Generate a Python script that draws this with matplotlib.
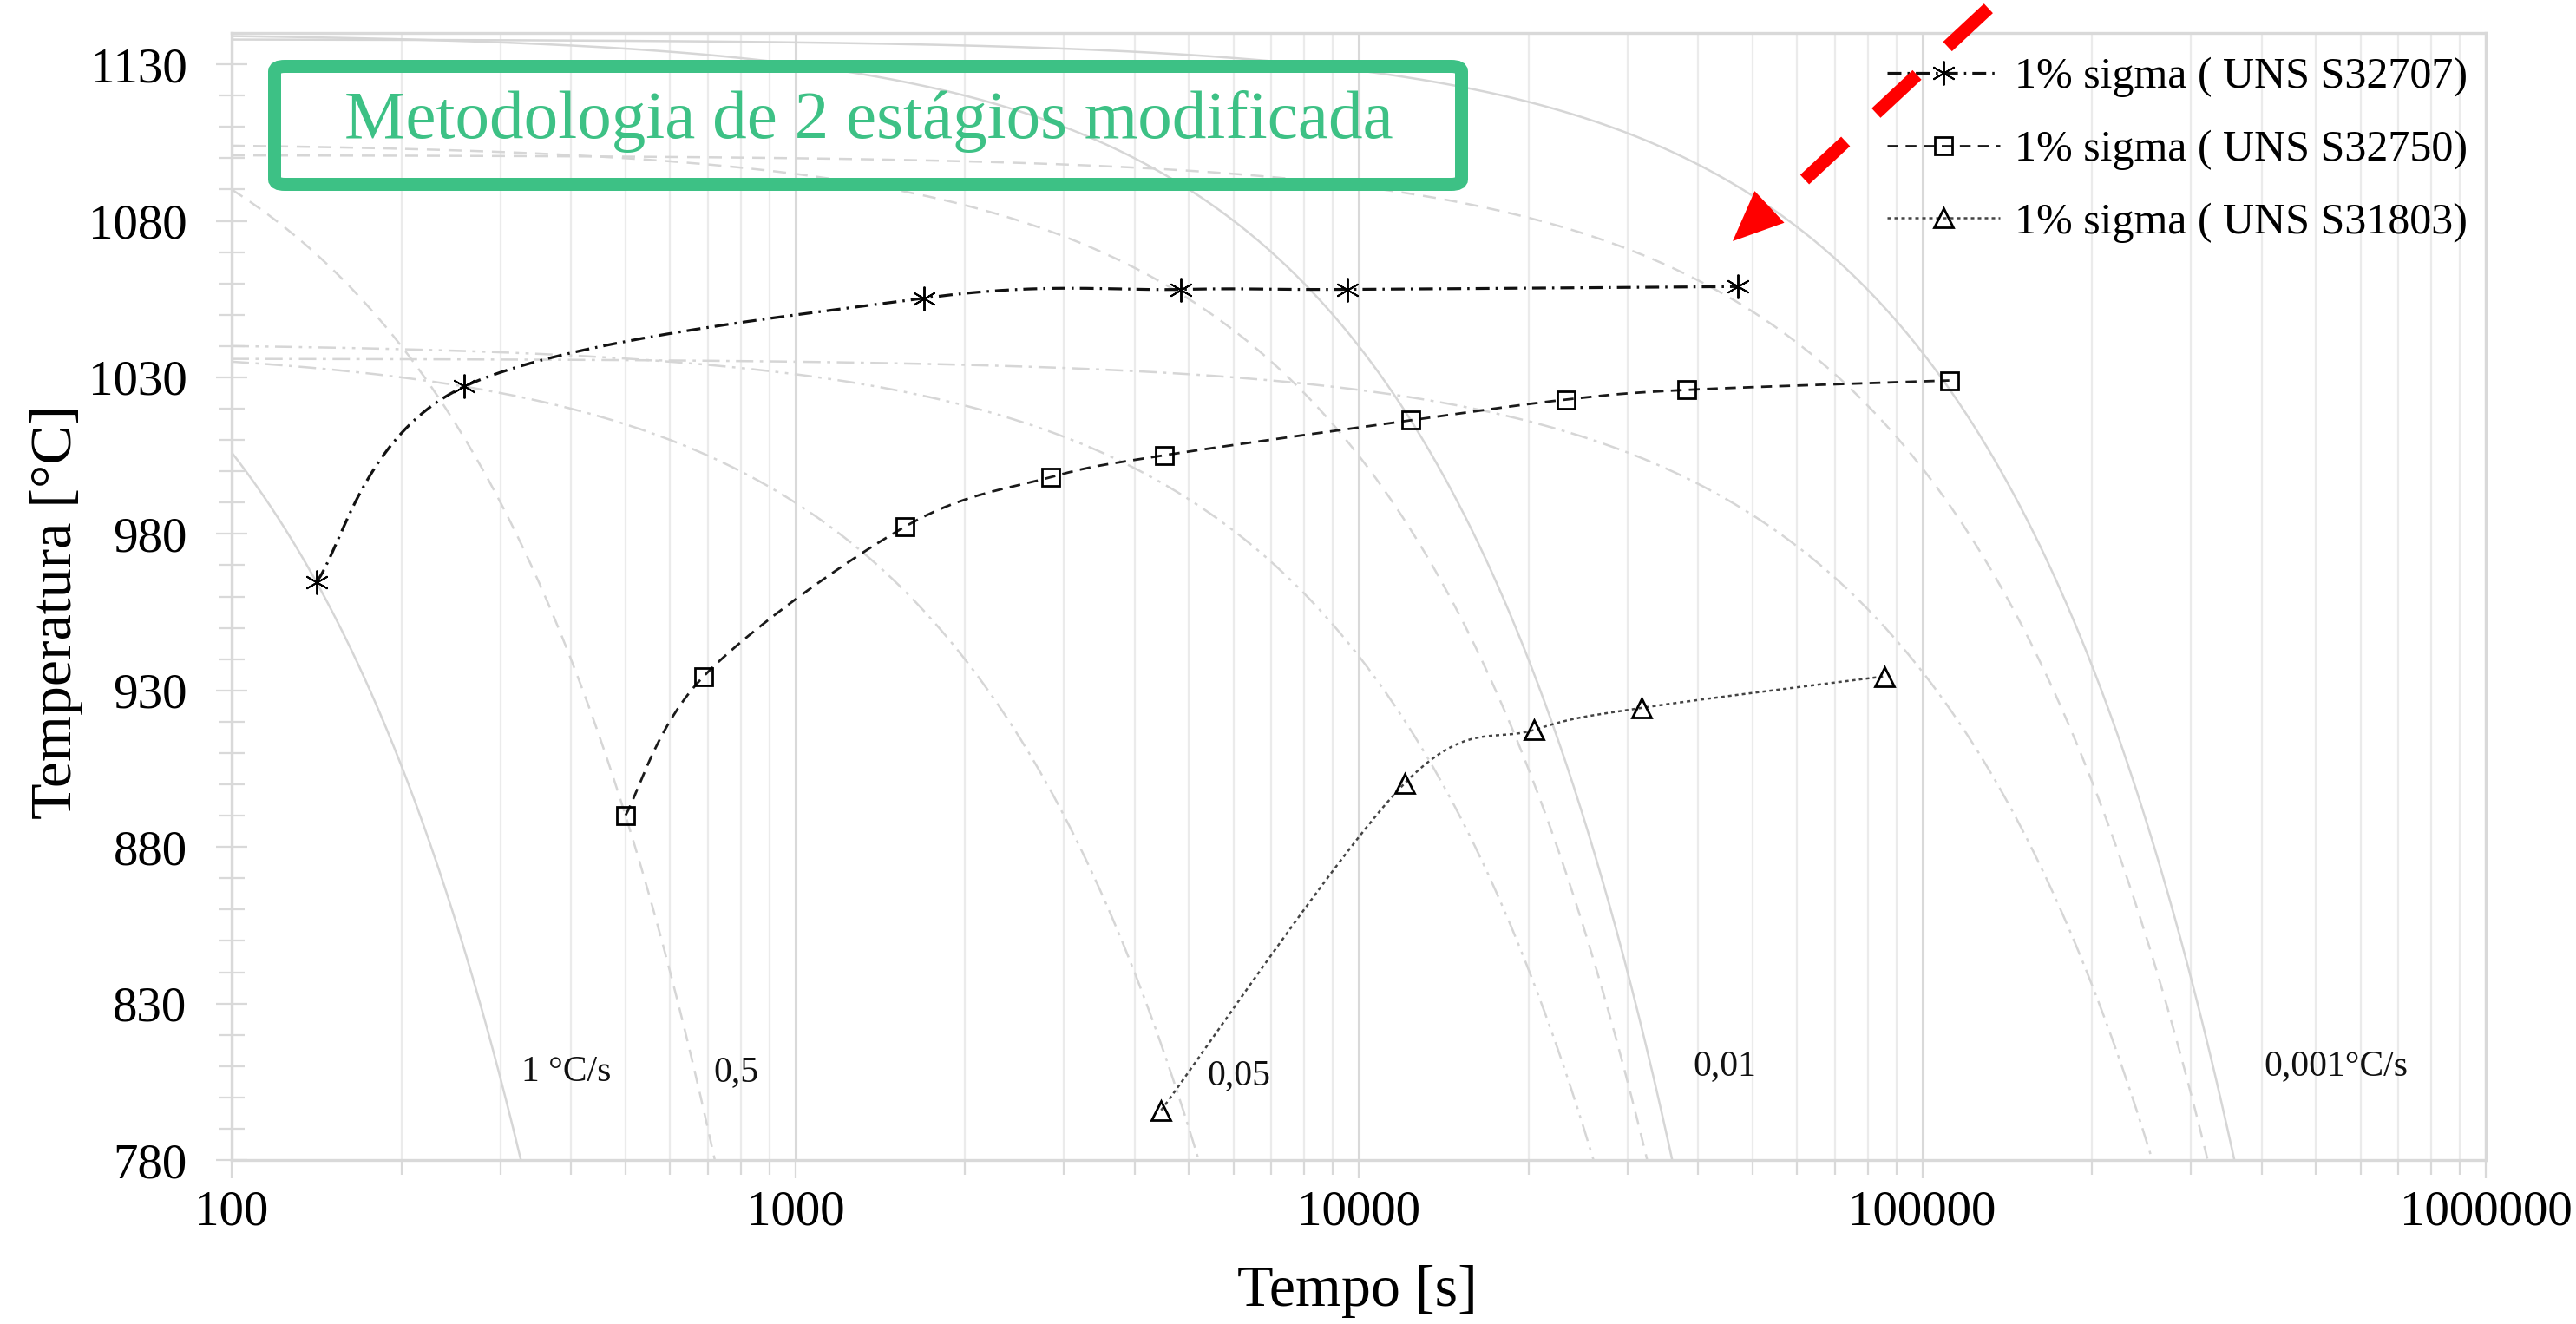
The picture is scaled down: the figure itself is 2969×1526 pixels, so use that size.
import numpy as np
import matplotlib
matplotlib.use("Agg")
import matplotlib.pyplot as plt
from matplotlib.ticker import FixedLocator, NullFormatter, FixedFormatter
from matplotlib.patches import FancyBboxPatch, Polygon
from matplotlib.lines import Line2D

plt.rcParams['font.family'] = ['Liberation Serif', 'DejaVu Serif']

# ---------------- data ----------------
s32707_t = [141.5, 259, 1694, 4838, 9537, 47090]
s32707_T = [964.7, 1027.1, 1055.3, 1058.1, 1058.1, 1059.0]

s32750_t = [500, 688, 1566, 2838, 4516, 12390, 23300, 38240, 111700]
s32750_T = [890.1, 934.5, 982.3, 998.1, 1005.1, 1016.3, 1022.9, 1026.0, 1029.0]

s31803_t = [4461, 12060, 20490, 31710, 85700]
s31803_T = [795.9, 900.3, 917.4, 924.4, 934.5]

series_labels = ['1% sigma ( UNS S32707)', '1% sigma ( UNS S32750)', '1% sigma ( UNS S31803)']

# background continuous-cooling curves (rate in °C/s, start temperature in °C)
cooling_rates = [1, 0.5, 0.05, 0.01, 0.01, 0.01, 0.001, 0.001, 0.001]
start_temps = [1106, 1140, 1040, 1041, 1105, 1140, 1036, 1101, 1138]
curve_styles = ['solid', 'dashed', 'dashdot', 'dashdotdot', 'dashed', 'solid',
                'dashdot', 'dashed', 'solid']

rate_labels = ['1 °C/s', '0,5', '0,05', '0,01', '0,001°C/s']
rate_label_t = [393, 785, 6130, 44650, 543000]
rate_label_T = [808, 808, 807, 810, 810]

y_ticks = [780, 830, 880, 930, 980, 1030, 1080, 1130]
x_ticks = [100, 1000, 10000, 100000, 1000000]
x_ticklabels = ['100', '1000', '10000', '100000', '1000000']

title_text = 'Metodologia de 2 estágios modificada'

# ---------------- figure ----------------
W, H = 2969, 1526
DPI = 100
fig = plt.figure(figsize=(W / DPI, H / DPI), dpi=DPI)
ax = fig.add_axes([267 / W, 1 - 1337 / H, (2865 - 267) / W, (1337 - 38) / H])
ax.set_xscale('log')
ax.set_xlim(100, 1e6)
ax.set_ylim(780, 1140)

GRID = '#d9d9d9'
MINGRID = '#ebebeb'
CURVE = '#d6d6d6'

# vertical grid
ax.xaxis.set_major_locator(FixedLocator(x_ticks))
ax.xaxis.set_major_formatter(FixedFormatter(x_ticklabels))
minors = [m * 10 ** e for e in range(2, 6) for m in range(2, 10)]
ax.xaxis.set_minor_locator(FixedLocator(minors))
ax.xaxis.set_minor_formatter(NullFormatter())
ax.grid(True, which='major', axis='x', color=GRID, lw=2.2, zorder=0)
ax.grid(True, which='minor', axis='x', color=MINGRID, lw=1.6, zorder=0)
ax.set_axisbelow(True)

ax.yaxis.set_major_locator(FixedLocator(y_ticks))
ax.yaxis.set_minor_locator(FixedLocator(list(range(790, 1140, 10))))

for s in ax.spines.values():
    s.set_color(GRID)
    s.set_linewidth(2.4)

ax.tick_params(axis='y', which='major', direction='inout', length=26, width=1.6,
               color=GRID, labelsize=41, pad=24)
ax.tick_params(axis='y', which='minor', direction='inout', length=22, width=1.6,
               color=GRID)
ax.tick_params(axis='x', which='major', direction='out', length=15, width=1.6,
               color=GRID, labelsize=41, pad=10)
ax.tick_params(axis='x', which='minor', direction='out', length=12, width=1.6,
               color=GRID)

# background cooling curves
dash_map = {
    'solid': '-',
    'dashed': (0, (6, 4)),
    'dashdot': (0, (8, 3, 1.5, 3)),
    'dashdotdot': (0, (8, 3, 1.5, 3, 1.5, 3)),
}
for r, T0, st in zip(cooling_rates, start_temps, curve_styles):
    t_end = (T0 - 780) / r
    t = np.logspace(2, np.log10(t_end), 600)
    T = T0 - r * t
    ax.plot(t, T, color=CURVE, lw=1.8, linestyle=dash_map[st], zorder=1)

for lab, tx, ty in zip(rate_labels, rate_label_t, rate_label_T):
    ax.text(tx, ty, lab, fontsize=30, ha='center', va='center', color='#111111', zorder=3)


def smooth(xs, ys, n=40):
    P = ax.transData.transform(np.column_stack([xs, ys]))
    Pe = np.vstack([P[0], P, P[-1]])
    out = []
    s = np.linspace(0, 1, n)[:, None]
    for i in range(len(P) - 1):
        p0, p1, p2, p3 = Pe[i], Pe[i + 1], Pe[i + 2], Pe[i + 3]
        c1 = p1 + (p2 - p0) / 6
        c2 = p2 - (p3 - p1) / 6
        seg = (1 - s) ** 3 * p1 + 3 * (1 - s) ** 2 * s * c1 + 3 * (1 - s) * s ** 2 * c2 + s ** 3 * p2
        out.append(seg if i == 0 else seg[1:])
    D = ax.transData.inverted().transform(np.vstack(out))
    return D[:, 0], D[:, 1]


series = [
    (s32707_t, s32707_T, (0, (5, 2.2, 0.8, 2.2)), 2.3, '#111111', (6, 2, 0), 20, 1.4),
    (s32750_t, s32750_T, (0, (4.5, 3)), 2.0, '#1a1a1a', 's', 15, 2.0),
    (s31803_t, s31803_T, (0, (1.6, 1.6)), 1.8, '#444444', '^', 16, 2.0),
]
handles = []
for (xs, ys, ls, lw, col, mk, ms, mew), lab in zip(series, series_labels):
    sx, sy = smooth(xs, ys)
    ax.plot(sx, sy, color=col, lw=lw, linestyle=ls, zorder=4)
    ax.plot(xs, ys, linestyle='none', marker=mk, ms=ms, mfc='none', mec='black',
            mew=mew, zorder=5)
    handles.append(Line2D([], [], color=col, lw=lw, linestyle=ls, marker=mk, ms=ms,
                          mfc='none', mec='black', mew=mew))

fig.legend(handles, series_labels, loc='upper left',
           bbox_to_anchor=(2175 / W, 1 - 66 / H), frameon=False, borderpad=0,
           borderaxespad=0, handlelength=2.6, handletextpad=0.35,
           labelspacing=0.74, fontsize=36, numpoints=1)

ax.set_xlabel('Tempo [s]', fontsize=49)
ax.xaxis.set_label_coords(0.4992, -0.093)
ax.set_ylabel('Temperatura [°C]', fontsize=49)
ax.yaxis.set_label_coords(-0.066, 0.486)

# title box
GREEN = '#3dc185'
bx0, by0, bx1, by1 = 309 + 7.5, 69 + 7.5, 1692 - 7.5, 220 - 7.5
box = FancyBboxPatch((bx0 / W, 1 - by1 / H), (bx1 - bx0) / W, (by1 - by0) / H,
                     boxstyle='round,pad=0,rounding_size=0.004',
                     transform=fig.transFigure, facecolor='none',
                     edgecolor=GREEN, lw=10.8, zorder=6)
fig.patches.append(box)
fig.text(1001 / W, 1 - 140 / H, title_text, fontsize=57, color=GREEN,
         ha='center', va='center')

# red dashed arrow
d = np.array([0.732, -0.682])
nrm = np.array([0.682, 0.732])
tip = np.array([1997.0, 278.0])
base = tip + 58 * d
head = np.array([tip, base + 25 * nrm, base - 25 * nrm])
head[:, 1] = H - head[:, 1]
fig.patches.append(Polygon(head / np.array([W, H]), closed=True,
                           transform=fig.transFigure, facecolor='#ff0000',
                           edgecolor='none', zorder=7))
p_a = np.array([2080.0, 207.0])
p_b = p_a + 420 * d
fig.add_artist(Line2D([p_a[0] / W, p_b[0] / W], [1 - p_a[1] / H, 1 - p_b[1] / H],
                      transform=fig.transFigure, color='#ff0000', lw=10.8,
                      linestyle=(0, (4.3, 3.2)), dash_capstyle='butt',
                      clip_on=False, zorder=7))

fig.savefig('out.png', dpi=DPI)
